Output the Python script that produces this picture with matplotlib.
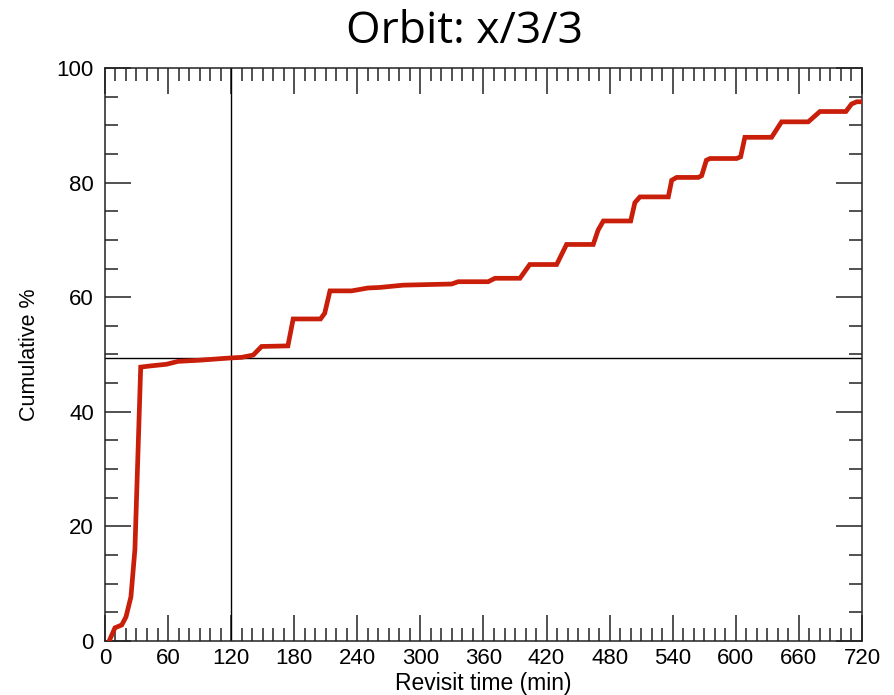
from matplotlib import pyplot as plt
from matplotlib.ticker import MultipleLocator

# Cumulative revisit curve
revisit_min = [4, 9.5, 16, 20, 24.7, 28.5, 34, 43, 58.7, 69.5, 90, 112, 120, 130,
               141, 149, 174, 179, 205, 209, 214, 234.6, 250, 261.5, 283.7, 329.7,
               336, 364.5, 371, 394.7, 404, 429.6, 439, 464.4, 469, 474, 500, 504,
               508.8, 535.8, 539, 543.7, 564.3, 567.5, 572, 575.5, 600.8, 604.6,
               608.6, 634, 643.5, 668.9, 680, 704.7, 710, 715, 720]
cumulative = [0, 2.3, 2.8, 4.2, 7.7, 16, 47.8, 48.0, 48.3, 48.8, 49.0, 49.3, 49.4, 49.5,
              49.9, 51.4, 51.5, 56.2, 56.2, 57.2, 61.1, 61.1, 61.6, 61.7, 62.1, 62.3,
              62.7, 62.7, 63.3, 63.3, 65.7, 65.7, 69.2, 69.2, 71.7, 73.3, 73.3, 76.5,
              77.5, 77.5, 80.4, 80.9, 80.9, 81.2, 83.9, 84.2, 84.2, 84.5, 87.9, 87.9,
              90.6, 90.6, 92.4, 92.4, 93.7, 94.1, 94.1]

x_ticks = [0, 60, 120, 180, 240, 300, 360, 420, 480, 540, 600, 660, 720]
y_ticks = [0, 20, 40, 60, 80, 100]
median_level = 49.4
median_time = 120

fig = plt.figure(figsize=(8.94, 6.95), dpi=100)
ax = fig.add_axes([0.1174, 0.0777, 0.8468, 0.8245])

ax.plot(revisit_min, cumulative, color='#c81e0a', linewidth=3.4,
        solid_joinstyle='miter', zorder=3)
ax.axhline(median_level, color='black', linewidth=1.0, zorder=2)
ax.axvline(median_time, color='black', linewidth=1.0, zorder=2)

ax.set_xlim(0, 720)
ax.set_ylim(0, 100)
ax.set_xticks(x_ticks)
ax.set_yticks(y_ticks)
ax.xaxis.set_minor_locator(MultipleLocator(10))
ax.yaxis.set_minor_locator(MultipleLocator(5))

ax.tick_params(which='both', direction='in', top=True, right=True, width=1.1,
               color='#222222')
ax.tick_params(which='major', length=19, labelsize=16)
ax.tick_params(axis='x', which='major', pad=5)
ax.tick_params(axis='y', which='major', pad=8)
ax.tick_params(which='minor', length=9.5)
for lab in ax.get_xticklabels() + ax.get_yticklabels():
    lab.set_family('Liberation Sans')
for sp in ax.spines.values():
    sp.set_linewidth(1.1)
    sp.set_color('#222222')

ax.set_xlabel("Revisit time (min)", fontsize=16.5, family='Liberation Sans', labelpad=2)
ax.set_ylabel("Cumulative %", fontsize=15.5, family='Liberation Sans', labelpad=12)

fig.text(0.52, 0.954, "Orbit: x/3/3", ha='center', va='center', fontsize=32,
         family='Open Sans')

plt.savefig('out.png', dpi=100)
